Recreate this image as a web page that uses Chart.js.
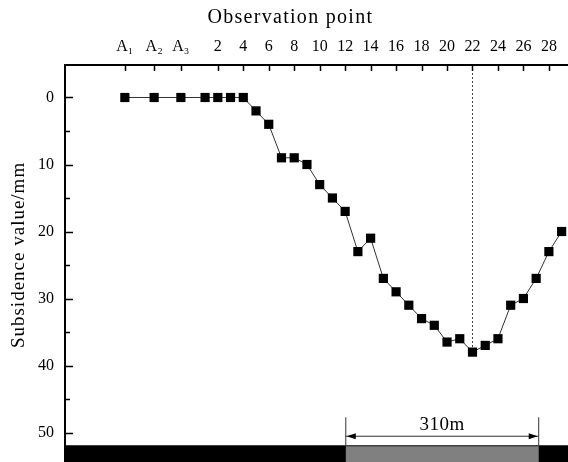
<!DOCTYPE html>
<html>
<head>
<meta charset="utf-8">
<script src="https://cdn.jsdelivr.net/npm/chart.js@4/dist/chart.umd.min.js"></script>
<style>
  html, body { margin: 0; padding: 0; background: #fff; }
  #wrap { width: 568px; height: 462px; }
</style>
</head>
<body>
<div id="wrap"><canvas id="subsChart" width="568" height="462"></canvas></div>
<script>
// observation points (A1-A3 are control points before point 1)
const pointNames = ['A1', 'A2', 'A3', '1', '2', '3', '4', '5', '6', '7', '8', '9', '10', '11', '12', '13', '14', '15', '16', '17', '18', '19', '20', '21', '22', '23', '24', '25', '26', '27', '28', '29'];
const pointPos = [-5.3, -3.0, -0.9, 1, 2, 3, 4, 5, 6, 7, 8, 9, 10, 11, 12, 13, 14, 15, 16, 17, 18, 19, 20, 21, 22, 23, 24, 25, 26, 27, 28, 29];
const subsidence = [0, 0, 0, 0, 0, 0, 0, 2, 4, 9, 9, 10, 13, 15, 17, 23, 21, 27, 29, 31, 33, 34, 36.5, 36, 38, 37, 36, 31, 30, 27, 23, 20];

// top axis tick labels
const xTickVals = [-5.3, -3.0, -0.9, 2, 4, 6, 8, 10, 12, 14, 16, 18, 20, 22, 24, 26, 28];
const xTickLabels = ['A\u2081', 'A\u2082', 'A\u2083', '2', '4', '6', '8', '10', '12', '14', '16', '18', '20', '22', '24', '26', '28'];
const yTickVals = [0, 10, 20, 30, 40, 50];
const yMinorVals = [5, 15, 25, 35, 45];

// working face strip at the bottom
const stripTop = 51.9;
const faceStart = 12.05;
const faceEnd = 27.2;
const faceLabel = '310m';
const xTitle = 'Observation point';
const xTitleAt = 7.7; // title centred over this observation position
const yTitle = 'Subsidence value/mm';
const yTitleAt = 23.5; // title centred at this subsidence value

const serif = "'Liberation Serif', 'DejaVu Serif', serif";

// inward ticks, max-subsidence guide line, bottom strip with dimension arrow
const decor = {
  id: 'decor',
  beforeDatasetsDraw(chart) {
    const { ctx, scales: { x, y }, chartArea } = chart;
    let iMax = 0;
    subsidence.forEach((v, i) => { if (v > subsidence[iMax]) iMax = i; });
    const px = Math.round(x.getPixelForValue(pointPos[iMax])) + 0.5;
    ctx.save();
    ctx.strokeStyle = '#444';
    ctx.lineWidth = 1;
    ctx.setLineDash([2, 2]);
    ctx.beginPath();
    ctx.moveTo(px, chartArea.top);
    ctx.lineTo(px, y.getPixelForValue(subsidence[iMax]));
    ctx.stroke();
    ctx.restore();
  },
  afterDraw(chart) {
    const { ctx, scales: { x, y }, chartArea } = chart;
    ctx.save();
    ctx.strokeStyle = '#000';
    ctx.lineWidth = 1.5;
    ctx.beginPath();
    xTickVals.forEach(v => {
      const p = Math.round(x.getPixelForValue(v)) + 0.5;
      ctx.moveTo(p, chartArea.top);
      ctx.lineTo(p, chartArea.top + 6);
    });
    yTickVals.forEach(v => {
      const p = Math.round(y.getPixelForValue(v)) + 0.5;
      ctx.moveTo(chartArea.left, p);
      ctx.lineTo(chartArea.left + 8, p);
    });
    yMinorVals.forEach(v => {
      const p = Math.round(y.getPixelForValue(v)) + 0.5;
      ctx.moveTo(chartArea.left, p);
      ctx.lineTo(chartArea.left + 5, p);
    });
    ctx.stroke();

    // axis titles (spaced out like the original)
    ctx.fillStyle = '#000';
    ctx.letterSpacing = '1.3px';
    ctx.font = '20px ' + serif;
    ctx.textAlign = 'center';
    ctx.textBaseline = 'middle';
    ctx.fillText(xTitle, x.getPixelForValue(xTitleAt), 18);
    ctx.save();
    ctx.translate(19, y.getPixelForValue(yTitleAt));
    ctx.rotate(-Math.PI / 2);
    ctx.font = '19px ' + serif;
    ctx.letterSpacing = '1px';
    ctx.fillText(yTitle, 0, 0);
    ctx.restore();

    // strip
    const top = y.getPixelForValue(stripTop);
    const x0 = x.getPixelForValue(faceStart);
    const x1 = x.getPixelForValue(faceEnd);
    ctx.fillStyle = '#000';
    ctx.fillRect(chartArea.left - 1, top, chartArea.right - chartArea.left + 1, chartArea.bottom - top);
    ctx.fillStyle = '#808080';
    ctx.fillRect(x0, top + 1, x1 - x0, chartArea.bottom - top - 1);

    // dimension
    const arrowY = top - 9;
    ctx.strokeStyle = '#333';
    ctx.lineWidth = 1;
    ctx.beginPath();
    ctx.moveTo(x0, top); ctx.lineTo(x0, top - 28);
    ctx.moveTo(x1, top); ctx.lineTo(x1, top - 28);
    ctx.moveTo(x0, arrowY); ctx.lineTo(x1, arrowY);
    ctx.stroke();
    ctx.fillStyle = '#000';
    ctx.beginPath();
    ctx.moveTo(x0 + 1, arrowY); ctx.lineTo(x0 + 10, arrowY - 3); ctx.lineTo(x0 + 10, arrowY + 3);
    ctx.closePath();
    ctx.moveTo(x1 - 1, arrowY); ctx.lineTo(x1 - 10, arrowY - 3); ctx.lineTo(x1 - 10, arrowY + 3);
    ctx.closePath();
    ctx.fill();
    ctx.font = '19px ' + serif;
    ctx.letterSpacing = '0.5px';
    ctx.textAlign = 'center';
    ctx.textBaseline = 'alphabetic';
    ctx.fillText(faceLabel, (x0 + x1) / 2, arrowY - 6);
    ctx.restore();
  }
};

new Chart(document.getElementById('subsChart'), {
  type: 'line',
  data: {
    labels: pointNames,
    datasets: [{
      data: pointPos.map((p, i) => ({ x: p, y: subsidence[i] })),
      borderColor: '#333',
      borderWidth: 1,
      pointStyle: 'rect',
      pointRadius: 6.5,
      pointBackgroundColor: '#000',
      pointBorderColor: '#000',
      pointBorderWidth: 0,
      tension: 0,
      clip: false
    }]
  },
  options: {
    responsive: false,
    animation: false,
    events: [],
    layout: { padding: 0, autoPadding: false },
    plugins: { legend: { display: false }, tooltip: { enabled: false } },
    scales: {
      x: {
        type: 'linear',
        position: 'top',
        min: -10,
        max: 29.5,
        grid: { display: false, drawTicks: false },
        border: { display: true, color: '#000', width: 2 },
        afterBuildTicks: s => { s.ticks = xTickVals.map(v => ({ value: v })); },
        afterFit: s => { s.height = 65; s.paddingLeft = 0; s.paddingRight = 0; },
        ticks: {
          autoSkip: false,
          maxRotation: 0,
          padding: 9,
          color: '#000',
          font: { family: serif, size: 16 },
          callback: v => xTickLabels[xTickVals.indexOf(v)]
        }
      },
      y: {
        type: 'linear',
        reverse: true,
        min: -4.85,
        max: 54.4,
        grid: { display: false, drawTicks: false },
        border: { display: true, color: '#000', width: 2 },
        afterBuildTicks: s => { s.ticks = yTickVals.map(v => ({ value: v })); },
        afterFit: s => { s.width = 65; s.paddingTop = 0; s.paddingBottom = 0; },
        ticks: {
          padding: 11,
          color: '#000',
          font: { family: serif, size: 16 }
        }
      }
    }
  },
  plugins: [decor]
});
</script>
</body>
</html>
